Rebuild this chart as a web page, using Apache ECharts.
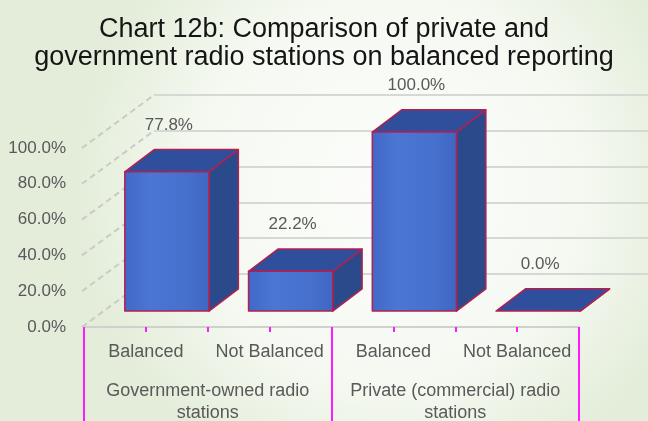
<!DOCTYPE html>
<html>
<head>
<meta charset="utf-8">
<script src="https://cdn.jsdelivr.net/npm/echarts@6/dist/echarts.min.js"></script>
<style>
  html, body { margin: 0; padding: 0; }
  #chart { width: 648px; height: 421px; }
</style>
</head>
<body>
<div id="chart"></div>
<script>
// Share of stations with balanced reporting, by ownership
const categories = ['Balanced', 'Not Balanced', 'Balanced', 'Not Balanced'];
const groups = ['Government-owned radio\nstations', 'Private (commercial) radio\nstations'];
const shares = [77.8, 22.2, 100.0, 0.0];
const yTicks = [0, 20, 40, 60, 80, 100];

const FONT = '"Liberation Sans", Arial, sans-serif';
const TEXT = '#595959';
const MAGENTA = '#ff1aff';

// Oblique projection of the depth axis (pixels from floor front to back wall)
const DEPTH = [70, -53];
const BAR_FRONT = 0.30;   // bar front face position along the depth
const BAR_BACK = 0.72;    // bar back face position along the depth
const BAR_RATIO = 0.68;   // bar width relative to category band

const fmtPct = v => v.toFixed(1) + '%';

const chart = echarts.init(document.getElementById('chart'), null, { renderer: 'canvas' });

function renderBar(params, api) {
  const i = api.value(0);
  const v = api.value(1);
  const base = api.coord([i, 0]);
  const top = api.coord([i, v]);
  const band = api.size([1, 0])[0];
  const w = band * BAR_RATIO;
  const fx = base[0] - w / 2 + DEPTH[0] * BAR_FRONT;
  const fy0 = base[1] + DEPTH[1] * BAR_FRONT;
  const fy1 = top[1] + DEPTH[1] * BAR_FRONT;
  const dx = DEPTH[0] * (BAR_BACK - BAR_FRONT);
  const dy = DEPTH[1] * (BAR_BACK - BAR_FRONT);
  const edge = { stroke: '#b3204f', lineWidth: 1.5, lineJoin: 'round' };
  return {
    type: 'group',
    children: [
      {
        type: 'polygon',
        shape: { points: [[fx + w, fy1], [fx + w + dx, fy1 + dy], [fx + w + dx, fy0 + dy], [fx + w, fy0]] },
        style: Object.assign({ fill: '#2b4a8c' }, edge)
      },
      {
        type: 'polygon',
        shape: { points: [[fx, fy1], [fx + w, fy1], [fx + w + dx, fy1 + dy], [fx + dx, fy1 + dy]] },
        style: Object.assign({ fill: '#2f4f9c' }, edge)
      },
      {
        type: 'polygon',
        invisible: v <= 0,
        shape: { points: [[fx, fy1], [fx + w, fy1], [fx + w, fy0], [fx, fy0]] },
        style: Object.assign({
          fill: {
            type: 'linear', x: 0, y: 0, x2: 1, y2: 0,
            colorStops: [
              { offset: 0, color: '#4169c7' },
              { offset: 0.3, color: '#4b76d4' },
              { offset: 0.75, color: '#4570cc' },
              { offset: 1, color: '#3f66c2' }
            ]
          }
        }, edge)
      },
      {
        type: 'text',
        style: {
          text: fmtPct(v),
          x: fx + w / 2 + 2,
          y: fy1 - 47,
          align: 'center',
          verticalAlign: 'middle',
          fill: TEXT,
          fontSize: 17,
          fontFamily: FONT
        }
      }
    ]
  };
}

function renderDiagonal(params, api) {
  const v = api.value(0);
  const y = api.coord([0, v])[1];
  const x0 = params.coordSys.x - 2;
  return {
    type: 'line',
    shape: { x1: x0, y1: y, x2: x0 + DEPTH[0] + 2, y2: y + DEPTH[1] },
    style: { stroke: '#c9cbc6', lineWidth: 2, lineDash: [6, 4] }
  };
}

const option = {
  animation: false,
  backgroundColor: {
    type: 'radial', x: 0.6, y: 0.45, r: 0.75,
    colorStops: [
      { offset: 0, color: '#fcfdfb' },
      { offset: 0.6, color: '#f6f9f2' },
      { offset: 1, color: '#e3edd9' }
    ]
  },
  title: {
    text: 'Chart 12b: Comparison of private and\ngovernment radio stations on balanced reporting',
    left: 'center',
    top: 11,
    textStyle: { fontFamily: FONT, fontSize: 27, lineHeight: 28, fontWeight: 'normal', color: '#151515' }
  },
  grid: [
    { left: 84, right: 69, top: 148, bottom: 94, outerBoundsMode: 'none', containLabel: false },
    { left: 84 + DEPTH[0], right: 0, top: 148 + DEPTH[1], bottom: 94 - DEPTH[1], outerBoundsMode: 'none', containLabel: false }
  ],
  xAxis: [
    {
      gridIndex: 0, type: 'category', data: categories, position: 'bottom',
      axisLine: { lineStyle: { color: '#cfd1cc', width: 2 } },
      axisTick: { show: true, length: 5, interval: 0, lineStyle: { color: MAGENTA, width: 2 } },
      axisLabel: { interval: 0, margin: 16, color: TEXT, fontSize: 18, fontFamily: FONT }
    },
    {
      gridIndex: 0, type: 'category', data: categories, position: 'bottom',
      axisLine: { show: false },
      axisTick: { show: true, alignWithLabel: true, length: 5, interval: 0, lineStyle: { color: MAGENTA, width: 2 } },
      axisLabel: { show: false }
    },
    {
      gridIndex: 0, type: 'category', data: groups, position: 'bottom',
      axisLine: { show: false },
      axisTick: { show: true, length: 96, interval: 0, lineStyle: { color: MAGENTA, width: 2 } },
      axisLabel: { interval: 0, margin: 53, color: TEXT, fontSize: 18, lineHeight: 22, fontFamily: FONT }
    },
    { gridIndex: 1, type: 'category', data: categories, show: false }
  ],
  yAxis: [
    {
      gridIndex: 0, type: 'value', min: 0, max: 100, interval: 20,
      axisLine: { show: false }, axisTick: { show: false }, splitLine: { show: false },
      axisLabel: { margin: 18, color: TEXT, fontSize: 17, fontFamily: FONT, formatter: fmtPct }
    },
    {
      gridIndex: 1, type: 'value', min: 0, max: 100, interval: 20,
      axisLine: { show: false }, axisTick: { show: false }, axisLabel: { show: false },
      splitLine: { show: true, lineStyle: { color: '#d6d8d3', width: 2 } }
    }
  ],
  series: [
    {
      type: 'custom',
      xAxisIndex: 0, yAxisIndex: 0,
      z: 1,
      silent: true,
      data: yTicks.map(v => [v]),
      encode: { y: 0 },
      renderItem: renderDiagonal
    },
    {
      type: 'custom',
      xAxisIndex: 0, yAxisIndex: 0,
      z: 3,
      data: shares.map((v, i) => [i, v]),
      encode: { x: 0, y: 1 },
      renderItem: renderBar
    }
  ]
};

chart.setOption(option);
</script>
</body>
</html>
